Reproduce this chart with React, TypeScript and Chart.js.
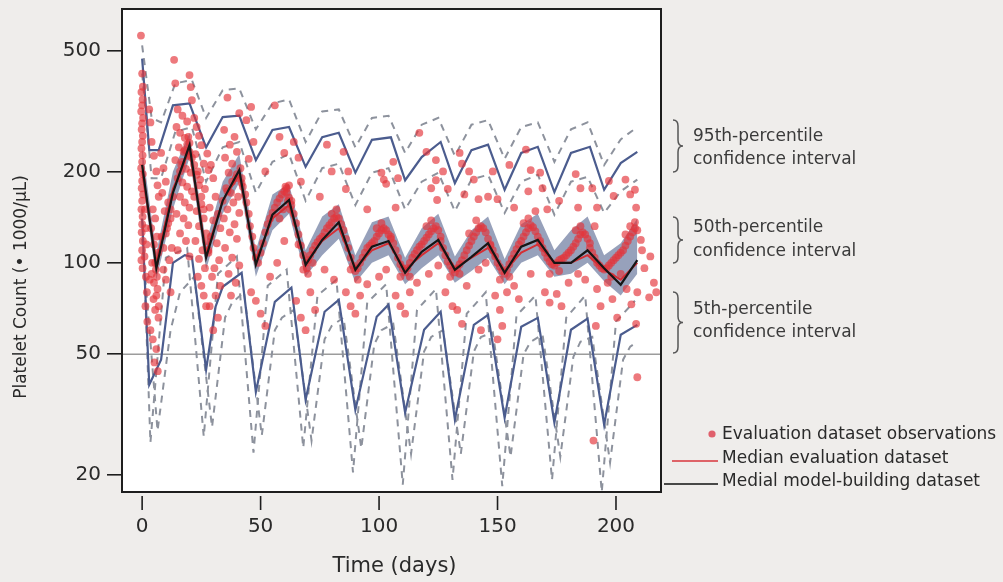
import React, { useEffect, useRef } from "react";
import { Chart, registerables } from "chart.js";

Chart.register(...registerables);

// ---------------- data ----------------
const xTicks = [0, 50, 100, 150, 200];
const yTicks = [20, 50, 100, 200, 500];
const referenceLine = 50;

// 95th percentile (solid) and its confidence interval (dashed)
const p95Days = [0, 3, 7, 13, 20, 27, 34, 41, 48, 55, 62, 69, 76, 83, 90, 97, 105, 111, 118, 126, 132, 139, 146, 153, 160, 167, 174, 181, 189, 195, 202, 209];
const p95Vals = [470, 235, 235, 330, 335, 240, 302, 305, 218, 274, 280, 207, 259, 268, 198, 254, 259, 187, 223, 250, 183, 235, 245, 174, 230, 241, 171, 230, 241, 174, 213, 232];
const p95CiDays = [0, 4, 8, 14, 21, 27, 34, 41, 48, 55, 62, 69, 76, 83, 90, 97, 104, 111, 118, 125, 132, 139, 146, 153, 160, 167, 174, 181, 188, 195, 202, 209];
const p95HiVals = [520, 300, 290, 390, 400, 300, 370, 375, 275, 335, 345, 250, 315, 320, 240, 300, 305, 230, 285, 300, 225, 285, 295, 220, 280, 290, 215, 275, 290, 210, 255, 280];
const p95LoVals = [420, 190, 190, 270, 280, 185, 240, 250, 170, 215, 228, 160, 205, 212, 155, 198, 205, 150, 185, 198, 148, 188, 195, 146, 185, 195, 144, 185, 192, 146, 172, 188];

// 5th percentile (solid) and its confidence interval (dashed)
const p5Days = [0, 3, 8, 13, 18, 21, 27, 31, 34, 42, 48, 56, 63, 69, 77, 83, 90, 99, 104, 111, 119, 126, 132, 140, 146, 153, 160, 167, 174, 181, 188, 195, 202, 209];
const p5Vals = [140, 39.7, 48, 100, 106, 104.6, 44.5, 71.7, 83.4, 92.7, 37.6, 74.4, 82.8, 35.4, 69, 75.5, 32.8, 66.4, 72.8, 32.1, 60.2, 69, 30.5, 62.5, 67.4, 30.9, 61.6, 65.9, 29.8, 60.2, 65.5, 29.3, 58, 62.5];
const p5CiADays = [0, 3.5, 10, 19, 26, 32, 40, 47, 53, 61, 68, 74, 82, 89, 95, 103, 110, 116, 124, 131, 137, 145, 152, 158, 166, 173, 179, 187, 194, 200, 208];
const p5CiAVals = [150, 25.6, 104, 112, 26.8, 92, 105, 23.7, 84, 95, 24.6, 78, 88, 20.4, 74, 85, 18.6, 70, 82, 19.3, 68, 80, 18.4, 67, 78, 19.3, 66, 78, 17.6, 64, 75];
const p5CiBDays = [0, 6.5, 12, 16, 22, 29.5, 35, 38, 43, 50.5, 56, 59, 64, 71.5, 77, 80, 85, 92.5, 98, 101, 106, 113.5, 119, 122, 127, 134.5, 140, 143, 148, 155.5, 161, 164, 169, 176.5, 182, 185, 190, 197.5, 203, 206, 209];
const p5CiBVals = [120, 28, 60, 80, 90, 28.8, 66, 74, 80, 27, 60, 66, 70, 26, 56, 62, 66, 24.5, 54, 60, 63, 23.5, 51, 57, 60, 23.5, 51, 57, 59, 23, 50, 55, 58, 23, 49, 55, 57, 22, 48, 53, 55];

// 50th percentile: band, model-building median, evaluation median
const medDays = [0, 6, 13, 20, 27, 34, 41, 48, 55, 62, 69, 76, 83, 90, 97, 104, 111, 118, 125, 132, 139, 146, 153, 160, 167, 174, 181, 188, 195, 202, 209];
const bandHiVals = [240, 108, 200, 268, 116, 185, 228, 110, 168, 182, 110, 142, 156, 106, 136, 142, 104, 130, 145, 105, 128, 142, 103, 134, 145, 110, 128, 142, 106, 116, 140];
const bandLoVals = [190, 88, 150, 222, 95, 145, 184, 90, 128, 145, 90, 106, 120, 86, 100, 106, 85, 96, 106, 86, 94, 104, 85, 100, 106, 90, 92, 100, 87, 78, 92];
const modelMedianVals = [210, 96, 170, 244, 104, 160, 202, 98.5, 144, 161, 98.5, 119, 136, 94.8, 113, 118, 92.7, 108.7, 119, 94.8, 104.6, 116, 92.7, 113, 119, 100, 100, 110, 96, 84.7, 102];
const evalMedianVals = [200, 100, 175, 235, 108, 160, 195, 102, 140, 155, 100, 118, 130, 96, 110, 116, 95, 106, 116, 96, 104, 112, 94, 108, 115, 100, 100, 106, 95, 88, 100];

// Evaluation dataset observations [day, platelet count]
const observations: [number, number][] = [
  // days 0-2
  [-0.5, 560], [0, 420], [0.3, 380], [-0.3, 365], [0.2, 345], [0, 330], [-0.4, 315], [0.4, 300], [0, 288], [-0.2, 275],
  [0.3, 262], [0, 250], [-0.3, 238], [0.2, 226], [0, 215], [-0.4, 205], [0.3, 196], [0, 186], [-0.2, 176], [0.4, 168],
  [0, 160], [-0.3, 150], [0.2, 142], [0, 134], [-0.2, 126], [0.3, 118], [0, 110], [-0.3, 102], [0.2, 96],
  [1.2, 150], [1.5, 130], [1.8, 115], [1.0, 105], [1.6, 90], [2.0, 80], [1.4, 72], [2.2, 64],
  // days 3-13
  [3, 320], [3.5, 290], [4, 250], [5, 225], [6, 200], [6.5, 180], [7, 165], [4.5, 150], [5.5, 140], [3.8, 130],
  [6.2, 122], [5, 115], [6.8, 108], [4.2, 100], [5.8, 95], [3.2, 88], [6.5, 82], [4.8, 76], [5.5, 70], [6.9, 66],
  [3.5, 60], [4.5, 56], [6, 52], [5.2, 47], [6.6, 44], [4, 92], [5, 86], [6, 78], [7, 72], [5.5, 100], [6.2, 90],
  [8, 230], [9, 205], [10, 185], [8.5, 170], [11, 158], [9.5, 148], [12, 140], [10.5, 130], [8.2, 122], [12.5, 112],
  [11.5, 102], [9, 95], [10, 88], [12, 80], [9, 112], [10, 125], [11, 135], [12, 150], [13, 165],
  // days 13-21
  [13.5, 466], [14, 390], [20, 415], [20.5, 379], [21, 343], [15, 320], [17, 305], [19, 292], [14.5, 280], [16, 268],
  [18, 258], [20, 248], [15.5, 240], [17.5, 232], [19.5, 225], [14, 218], [16.5, 210], [18.5, 204], [20.5, 198], [15, 190],
  [17, 184], [19, 178], [21, 172], [16, 165], [18, 158], [20, 152], [14.5, 145], [17.5, 140], [19.5, 133], [16, 125],
  [18.5, 118], [15, 110], [20, 105], [18, 235], [19, 245], [20, 232], [17, 215], [16, 200], [21, 222], [19.5, 260],
  // days 21-34
  [22, 300], [23, 280], [24, 262], [25, 244], [22.5, 228], [26, 212], [23.5, 200], [24.5, 188], [26.5, 175], [22, 165],
  [25, 156], [23, 148], [26, 140], [24, 132], [27, 125], [22.5, 118], [25.5, 110], [24, 103], [26.5, 96], [23.5, 90],
  [25, 84], [26, 78], [27, 72], [22, 210], [23, 195], [24, 180], [25, 165], [26, 150], [27, 118], [28, 110],
  [27.5, 229], [29, 210], [28, 202], [30, 190], [31, 165], [28.5, 152], [32, 145], [30, 138], [33, 130], [29, 122],
  [31.5, 116], [28, 108], [32.5, 102], [30.5, 96], [29.5, 90], [33, 84], [31, 78], [28.5, 72], [32, 66], [30, 60],
  // days 34-42
  [36, 350], [41, 311], [34.6, 274], [39, 260], [37, 245], [40, 232], [35, 222], [38, 212], [41.5, 205], [36.5, 198],
  [39.5, 190], [42, 183], [35.5, 176], [37.5, 170], [40.5, 165], [38.5, 158], [36, 150], [41, 146], [34.5, 140], [39, 134],
  [37, 126], [40, 120], [35, 112], [38, 104], [41, 98], [36.5, 92], [39.5, 86], [37.5, 78], [34, 160], [36, 172], [38, 185], [40, 196],
  // cycle days 42-63
  [42, 190], [42.5, 178], [43.5, 168], [44, 158], [45, 145], [45.5, 132], [46.5, 122], [47, 112], [48, 104], [49, 100],
  [50, 108], [51, 116], [52, 126], [53, 134], [54, 140], [55, 146], [56, 152], [57, 158], [58, 163], [59, 168],
  [60, 172], [61, 170], [62, 164], [63, 160], [60.5, 178], [61.5, 160], [62.5, 150], [59.5, 150], [58, 140], [61, 176], [62, 180],
  [44, 295], [46, 326], [47, 250], [56, 330], [58, 260], [60, 230], [52, 200], [45, 220],
  [46, 80], [48, 75], [50, 68], [52, 62], [54, 90], [57, 100], [60, 118],
  // cycle days 63-84
  [63, 155], [64, 145], [65, 135], [66, 124], [67, 114], [68, 106], [69, 100], [69.5, 96], [70, 102], [71, 106],
  [72, 110], [73, 114], [74, 117], [75, 120], [76, 122], [77, 126], [78, 130], [79, 133], [80, 136], [81, 140],
  [82, 142], [83, 140], [82, 150], [80, 145], [66, 115], [68, 95], [70, 92], [72, 100],
  [64, 250], [66, 222], [67, 185], [78, 245], [80, 200], [75, 165],
  [65, 75], [67, 66], [69, 60], [71, 80], [73, 70], [77, 95], [81, 88],
  // cycle days 84-105
  [84, 134], [85, 128], [86, 120], [87, 112], [88, 104], [89, 98], [90, 94], [91, 96], [92, 100], [93, 104],
  [94, 108], [95, 112], [96, 114], [97, 116], [98, 118], [99, 122], [100, 125], [101, 128], [102, 130], [103, 128],
  [104, 124], [105, 120], [101, 135], [99, 130], [88, 95], [91, 88],
  [85, 232], [87, 200], [86, 175], [101, 198], [102, 188], [103, 182], [95, 150],
  [86, 80], [88, 72], [90, 68], [92, 78], [95, 85], [100, 90], [103, 95],
  // cycle days 105-126
  [105, 122], [106, 116], [107, 110], [108, 104], [109, 99], [110, 96], [111, 93], [112, 96], [113, 100], [114, 104],
  [115, 107], [116, 110], [117, 113], [118, 115], [119, 118], [120, 121], [121, 124], [122, 127], [123, 130], [124, 132],
  [125, 128], [126, 122], [122, 138], [120, 132], [109, 90], [113, 90],
  [106, 215], [108, 190], [107, 152], [117, 268], [124, 218], [124, 187], [124.5, 161], [120, 232], [122, 176],
  [107, 78], [109, 72], [111, 68], [113, 80], [116, 86], [121, 92], [125, 98],
  // cycle days 126-147
  [126, 118], [127, 112], [128, 106], [129, 101], [130, 98], [131, 95], [132, 93], [133, 96], [134, 99], [135, 102],
  [136, 106], [137, 110], [138, 114], [139, 118], [140, 122], [141, 126], [142, 130], [143, 132], [144, 130], [145, 126],
  [146, 120], [147, 115], [141, 138], [138, 125], [130, 90], [134, 92],
  [127, 200], [129, 175], [134, 230], [135, 212], [136, 168], [140, 188], [142, 162], [138, 200],
  [128, 80], [131, 72], [133, 70], [135, 63], [137, 84], [142, 95], [145, 100], [143, 60],
  // cycle days 147-168
  [147, 114], [148, 110], [149, 105], [150, 100], [151, 97], [152, 94], [153, 92], [154, 95], [155, 99], [156, 103],
  [157, 107], [158, 111], [159, 115], [160, 118], [161, 122], [162, 126], [163, 130], [164, 133], [165, 131], [166, 127],
  [167, 122], [168, 118], [163, 140], [161, 135], [151, 88], [155, 90],
  [146, 165], [148, 200], [150, 162], [155, 210], [157, 152], [162, 236], [164, 202], [163, 172], [166, 148],
  [149, 78], [151, 70], [152, 62], [150, 56], [154, 80], [157, 84], [159, 76], [164, 92],
  // cycle days 168-189
  [168, 116], [169, 112], [170, 108], [171, 104], [172, 101], [173, 99], [174, 98], [175, 100], [176, 102], [177, 103],
  [178, 104], [179, 106], [180, 108], [181, 110], [182, 113], [183, 116], [184, 120], [185, 124], [186, 126], [187, 124],
  [188, 120], [189, 116], [185, 132], [183, 128], [172, 92], [176, 94],
  [168, 198], [169, 176], [171, 150], [176, 160], [183, 196], [185, 176], [184, 152],
  [170, 80], [172, 74], [175, 79], [177, 72], [180, 86], [184, 92], [187, 88],
  // cycle days 189-210
  [189, 112], [190, 108], [191, 104], [192, 100], [193, 98], [194, 96], [195, 95], [196, 96], [197, 98], [198, 100],
  [199, 102], [200, 104], [201, 106], [202, 108], [203, 110], [204, 114], [205, 118], [206, 122], [207, 126], [208, 130],
  [209, 128], [206, 132], [204, 124], [198, 90], [202, 92],
  [190, 176], [192, 152], [191, 132], [197, 186], [199, 166], [204, 188], [206, 168], [208, 174], [208.5, 152], [208, 136],
  [192, 82], [193.5, 72], [191.5, 62], [190.5, 26], [196.5, 86], [198.5, 76], [200.5, 66], [204.5, 82], [206.5, 73], [208.5, 63], [209, 42],
  [210.5, 119], [214.5, 105], [209, 80], [214, 77], [217, 80], [212, 96], [216, 86], [211, 110]
];

// ---------------- styles ----------------
const FONT = "DejaVu Sans";
const TEXT = "#2a2a2a";
const BLUE = "#4b5c8e";
const DASH = "#8d929d";

const pts = (days: number[], vals: number[]) => days.map((d, i) => ({ x: d, y: vals[i] }));

const lineDs = (label: string, days: number[], vals: number[], color: string, width: number, dash: number[], order: number, extra: any = {}) => ({
  type: "line" as const,
  label,
  data: pts(days, vals),
  borderColor: color,
  borderWidth: width,
  borderDash: dash,
  pointRadius: 0,
  fill: false,
  tension: 0,
  order,
  ...extra,
});

const annotations = [
  { l1: "95th-percentile", l2: "confidence interval", y1: 137, y2: 160, top: 120, bot: 172 },
  { l1: "50th-percentile", l2: "confidence interval", y1: 228, y2: 252, top: 217, bot: 263 },
  { l1: "5th-percentile", l2: "confidence interval", y1: 310, y2: 333, top: 292, bot: 353 },
];

const decorPlugin = {
  id: "decor",
  beforeDraw(chart: any) {
    const { ctx, chartArea: a, width, height } = chart;
    ctx.save();
    ctx.fillStyle = "#efedeb";
    ctx.fillRect(0, 0, width, height);
    ctx.fillStyle = "#ffffff";
    ctx.fillRect(a.left, a.top, a.right - a.left, a.bottom - a.top);
    ctx.restore();
  },
  beforeDatasetsDraw(chart: any) {
    const { ctx, chartArea: a } = chart;
    const y = chart.scales.y.getPixelForValue(referenceLine);
    ctx.save();
    ctx.strokeStyle = "#9c9c9c";
    ctx.lineWidth = 1.3;
    ctx.beginPath();
    ctx.moveTo(a.left, y);
    ctx.lineTo(a.right, y);
    ctx.stroke();
    ctx.restore();
  },
  afterDraw(chart: any) {
    const { ctx, chartArea: a } = chart;
    ctx.save();
    // frame
    ctx.strokeStyle = "#1e1e1e";
    ctx.lineWidth = 2;
    ctx.strokeRect(a.left, a.top, a.right - a.left, a.bottom - a.top);
    // x tick marks (offset from frame)
    ctx.lineWidth = 1.6;
    xTicks.forEach((v) => {
      const px = chart.scales.x.getPixelForValue(v);
      ctx.beginPath();
      ctx.moveTo(px, a.bottom + 4);
      ctx.lineTo(px, a.bottom + 18);
      ctx.stroke();
    });
    // axis titles
    ctx.fillStyle = TEXT;
    ctx.textBaseline = "middle";
    ctx.textAlign = "center";
    ctx.font = `21px "${FONT}"`;
    ctx.fillText("Time (days)", (a.left + a.right) / 2 + 3, 567);
    ctx.save();
    ctx.translate(22, 287);
    ctx.rotate(-Math.PI / 2);
    ctx.font = `17px "${FONT}"`;
    ctx.fillText("Platelet Count (\u2022 1000/\u00b5L)", 0, 0);
    ctx.restore();
    // braces + annotation text
    ctx.font = `17px "${FONT}"`;
    ctx.textAlign = "left";
    ctx.fillStyle = "#3a3a3a";
    annotations.forEach((an) => {
      const x0 = 673;
      const mid = (an.top + an.bot) / 2;
      ctx.strokeStyle = "#555";
      ctx.lineWidth = 1.5;
      ctx.beginPath();
      ctx.moveTo(x0, an.top);
      ctx.quadraticCurveTo(x0 + 5, an.top, x0 + 5, an.top + 6);
      ctx.lineTo(x0 + 5, mid - 6);
      ctx.quadraticCurveTo(x0 + 5, mid, x0 + 10, mid);
      ctx.quadraticCurveTo(x0 + 5, mid, x0 + 5, mid + 6);
      ctx.lineTo(x0 + 5, an.bot - 6);
      ctx.quadraticCurveTo(x0 + 5, an.bot, x0, an.bot);
      ctx.stroke();
      ctx.fillText(an.l1, 693, an.y1);
      ctx.fillText(an.l2, 693, an.y2);
    });
    // legend
    ctx.fillStyle = "#e0606c";
    ctx.beginPath();
    ctx.arc(712, 434, 3.6, 0, Math.PI * 2);
    ctx.fill();
    ctx.fillStyle = TEXT;
    ctx.fillText("Evaluation dataset observations", 722, 435);
    ctx.strokeStyle = "#d8343c";
    ctx.lineWidth = 1.6;
    ctx.beginPath();
    ctx.moveTo(672, 461);
    ctx.lineTo(718, 461);
    ctx.stroke();
    ctx.fillText("Median evaluation dataset", 722, 459);
    ctx.strokeStyle = "#111";
    ctx.beginPath();
    ctx.moveTo(664, 484);
    ctx.lineTo(718, 484);
    ctx.stroke();
    ctx.fillText("Medial model-building dataset", 722, 482);
    ctx.restore();
  },
};

export default function App() {
  const ref = useRef<HTMLCanvasElement>(null);
  useEffect(() => {
    if (!ref.current) return;
    const datasets: any[] = [
      lineDs("Median model-building dataset", medDays, modelMedianVals, "#151515", 2.2, [], 1),
      lineDs("Median evaluation dataset", medDays, evalMedianVals, "#d42f35", 2, [], 2),
      {
        type: "scatter",
        label: "Evaluation dataset observations",
        data: observations.map(([d, v]) => ({ x: d, y: v })),
        pointRadius: 3.9,
        pointBackgroundColor: "rgba(228,52,58,0.66)",
        pointBorderWidth: 0,
        showLine: false,
        order: 4,
      },
      lineDs("95th percentile", p95Days, p95Vals, BLUE, 2.2, [], 6),
      lineDs("5th percentile", p5Days, p5Vals, BLUE, 2.2, [], 6),
      lineDs("95th CI upper", p95CiDays, p95HiVals, DASH, 2, [7, 6], 8),
      lineDs("95th CI lower", p95CiDays, p95LoVals, DASH, 2, [7, 6], 8),
      lineDs("5th CI A", p5CiADays, p5CiAVals, DASH, 2, [7, 6], 8),
      lineDs("5th CI B", p5CiBDays, p5CiBVals, DASH, 2, [7, 6], 8),
      lineDs("50th CI upper", medDays, bandHiVals, "rgba(0,0,0,0)", 0, [], 10, { fill: "+1", backgroundColor: "rgba(128,140,172,0.82)" }),
      lineDs("50th CI lower", medDays, bandLoVals, "rgba(0,0,0,0)", 0, [], 10),
    ];
    const chart = new Chart(ref.current, {
      type: "scatter",
      data: { datasets },
      options: {
        animation: false,
        responsive: false,
        maintainAspectRatio: false,
        layout: { padding: { top: 9, right: 342, left: 0, bottom: 0 } },
        plugins: { legend: { display: false }, tooltip: { enabled: false } },
        scales: {
          x: {
            type: "linear",
            min: -8.5,
            max: 219,
            afterBuildTicks: (s: any) => {
              s.ticks = xTicks.map((v) => ({ value: v }));
            },
            afterFit: (s: any) => {
              s.height = 90;
              s.paddingLeft = 0;
              s.paddingRight = 0;
            },
            grid: { display: true, drawOnChartArea: false, drawTicks: true, tickLength: 18, color: "rgba(0,0,0,0)" },
            border: { display: false },
            ticks: { font: { family: FONT, size: 20 }, color: TEXT, padding: 5, maxRotation: 0, autoSkip: false, callback: (v: any) => String(v) },
          },
          y: {
            type: "logarithmic",
            min: 17.6,
            max: 685,
            afterBuildTicks: (s: any) => {
              s.ticks = yTicks.map((v) => ({ value: v }));
            },
            afterFit: (s: any) => {
              s.width = 122;
              s.paddingTop = 0;
              s.paddingBottom = 0;
            },
            grid: { display: true, drawOnChartArea: false, drawTicks: true, tickLength: 15, color: "#1e1e1e", lineWidth: 1.6 },
            border: { display: false },
            ticks: { font: { family: FONT, size: 20 }, color: TEXT, padding: 6, autoSkip: false, callback: (v: any) => String(v) },
          },
        },
      },
      plugins: [decorPlugin],
    } as any);
    return () => chart.destroy();
  }, []);
  return (
    <div style={{ position: "absolute", left: 0, top: 0, width: 1003, height: 582, background: "#efedeb" }}>
      <canvas ref={ref} width={1003} height={582} style={{ display: "block" }} />
    </div>
  );
}
